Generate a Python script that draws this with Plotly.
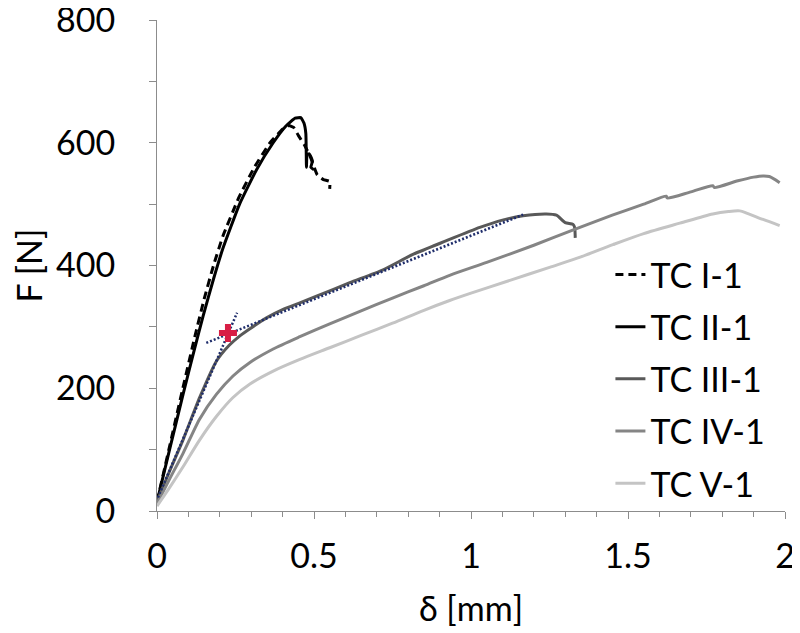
import plotly.graph_objects as go

# ---- data ----
names = ["TC I-1", "TC II-1", "TC III-1", "TC IV-1", "TC V-1"]

tc1_x = [0, 0.04, 0.08, 0.12, 0.15, 0.18, 0.21, 0.26, 0.31, 0.36, 0.40, 0.42, 0.435, 0.45, 0.47, 0.49, 0.51, 0.53, 0.55, 0.55]
tc1_y = [15, 105, 195, 283, 345, 400, 448, 510, 560, 600, 622, 628, 625, 612, 596, 575, 548, 540, 537, 525]

tc2_x = [0, 0.04, 0.083, 0.12, 0.147, 0.18, 0.21, 0.263, 0.317, 0.37, 0.41, 0.44, 0.458, 0.468, 0.474, 0.476, 0.478, 0.485, 0.495, 0.49, 0.5]
tc2_y = [15, 100, 190, 265, 318, 378, 428, 500, 556, 600, 627, 640, 641, 632, 615, 560, 580, 582, 570, 560, 556]

tc3_x = [0, 0.04, 0.083, 0.136, 0.189, 0.23, 0.263, 0.296, 0.35, 0.40, 0.455, 0.508, 0.614, 0.72, 0.815, 0.92, 1.028, 1.1, 1.166, 1.24, 1.272, 1.30, 1.325, 1.33, 1.332]
tc3_y = [15, 65, 116, 185, 244, 270, 285, 297, 315, 328, 339, 350, 372, 393, 418, 440, 462, 474, 481, 484, 482, 470, 467, 462, 445]

tc4_x = [0, 0.04, 0.083, 0.136, 0.189, 0.242, 0.296, 0.37, 0.455, 0.55, 0.65, 0.75, 0.85, 0.932, 1.05, 1.2, 1.33, 1.45, 1.55, 1.622, 1.625, 1.7, 1.77, 1.775, 1.85, 1.9, 1.93, 1.95, 1.983]
tc4_y = [12, 52, 94, 150, 190, 220, 242, 264, 284, 305, 326, 347, 367, 384, 405, 433, 459, 482, 500, 513, 510, 520, 530, 527, 538, 544, 546, 545, 535]

tc5_x = [0, 0.04, 0.083, 0.136, 0.189, 0.242, 0.296, 0.37, 0.455, 0.55, 0.65, 0.75, 0.85, 0.932, 1.0, 1.113, 1.25, 1.35, 1.452, 1.55, 1.665, 1.77, 1.82, 1.856, 1.88, 1.93, 1.983]
tc5_y = [8, 38, 72, 116, 154, 185, 207, 228, 247, 266, 286, 306, 327, 343, 355, 374, 397, 414, 434, 452, 469, 484, 488, 489, 485, 475, 465]

# tangent construction lines and yield point
tan1_x = [0.003, 0.255]
tan1_y = [22, 323]
tan2_x = [0.157, 1.166]
tan2_y = [274, 483]
yield_x = [0.226]
yield_y = [290]

y_ticks = [0, 200, 400, 600, 800]
x_ticks = [0, 0.5, 1, 1.5, 2]

FONT = "Lato"
FS = 34

fig = go.Figure()

series = [
    (tc1_x, tc1_y, "#000000", "8px,5px", 0.4),
    (tc2_x, tc2_y, "#000000", "solid", 0.4),
    (tc3_x, tc3_y, "#595959", "solid", 0.6),
    (tc4_x, tc4_y, "#858585", "solid", 0.7),
    (tc5_x, tc5_y, "#c4c4c4", "solid", 0.8),
]
for i, (xs, ys, col, dash, sm) in enumerate(series):
    fig.add_trace(go.Scatter(
        x=xs, y=ys, mode="lines", name=names[i], legendgroup=names[i],
        line=dict(color=col, width=3, dash=dash, shape="spline", smoothing=sm),
    ))

for xs, ys in [(tan1_x, tan1_y), (tan2_x, tan2_y)]:
    fig.add_trace(go.Scatter(
        x=xs, y=ys, mode="lines", showlegend=False,
        line=dict(color="#1f2d6b", width=2.5, dash="2px,2px"),
    ))

fig.add_trace(go.Scatter(
    x=yield_x, y=yield_y, mode="markers", showlegend=False,
    marker=dict(symbol="cross", size=15, color="#d81e45", line=dict(width=0)),
))

axis_col = "#8c8c8c"
# the page body adds an 8px offset, so the figure is 8px smaller on each axis
fig.update_layout(
    width=792, height=625,
    margin=dict(l=149, r=15, t=12, b=122),
    paper_bgcolor="white", plot_bgcolor="white",
    font=dict(family=FONT, size=FS, color="black"),
    legend=dict(x=0.722, y=0.54, xanchor="left", yanchor="top",
                bgcolor="rgba(0,0,0,0)", font=dict(family=FONT, size=FS),
                tracegroupgap=5, itemwidth=30),
    xaxis=dict(
        range=[0, 2], tickvals=x_ticks, ticktext=["0", "0.5", "1", "1.5", "2"],
        showgrid=False, zeroline=False, showline=True, linecolor=axis_col, linewidth=1,
        ticks="outside", ticklen=7, tickcolor=axis_col, tickwidth=1,
        minor=dict(dtick=0.1, ticks="outside", ticklen=5, tickcolor=axis_col, showgrid=False),
        tickfont=dict(family=FONT, size=FS),
        title=dict(text="δ [mm]", font=dict(family=FONT, size=FS), standoff=23),
        ticklabelstandoff=8, automargin=False, ticklabeloverflow="allow",
    ),
    yaxis=dict(
        range=[0, 800], tickvals=y_ticks,
        showgrid=False, zeroline=False, showline=True, linecolor=axis_col, linewidth=1,
        ticks="outside", ticklen=7, tickcolor=axis_col, tickwidth=1,
        minor=dict(dtick=100, ticks="outside", ticklen=7, tickcolor=axis_col, showgrid=False),
        tickfont=dict(family=FONT, size=FS),
        title=dict(text="F [N]", font=dict(family=FONT, size=FS), standoff=20),
        ticklabelstandoff=27, automargin=False, ticklabeloverflow="allow",
    ),
)

fig.write_html("out.html", config={"displayModeBar": False})
